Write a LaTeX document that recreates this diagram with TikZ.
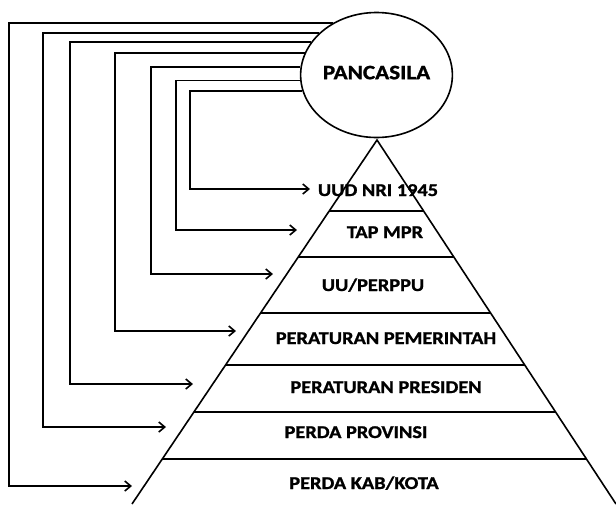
\documentclass[tikz,border=0pt]{standalone}
\usepackage{fontspec}
\setmainfont{Carlito}[FakeStretch=1.13, BoldFeatures={FakeBold=1.2}]
\usetikzlibrary{calc,shapes.geometric,arrows.meta}

\begin{document}
\begin{tikzpicture}[x=1pt, y=-1pt, line width=1.6pt,
    level/.style={font=\bfseries\fontsize{18}{18}\selectfont, inner sep=0pt,
      text height=12pt, text depth=0pt},
    link/.style={-{Straight Barb[length=6pt,width=10pt]}}]
    \clip (0,0) rectangle (616,504);
    \node[draw, ellipse, minimum width=147pt, minimum height=125pt, inner sep=0pt,
      font=\bfseries\fontsize{20.5}{20.5}\selectfont] (pancasila) at (376.5,75)
      {\raisebox{5pt}{PANCASILA}};
    \coordinate (apex) at (377,140);
    \coordinate (bl) at (132,504);
    \coordinate (br) at (616,504);
    \draw (bl) -- (apex) -- (br);
    \draw ($(apex)!0.195!(bl)$) -- ($(apex)!0.195!(br)$);
    \draw ($(apex)!0.321!(bl)$) -- ($(apex)!0.321!(br)$);
    \draw ($(apex)!0.475!(bl)$) -- ($(apex)!0.475!(br)$);
    \draw ($(apex)!0.618!(bl)$) -- ($(apex)!0.618!(br)$);
    \draw ($(apex)!0.747!(bl)$) -- ($(apex)!0.747!(br)$);
    \draw ($(apex)!0.876!(bl)$) -- ($(apex)!0.876!(br)$);
    \node[level] (uud) at (378,190) {UUD NRI 1945};
    \node[level] (tapmpr) at (385,232) {TAP MPR};
    \node[level] (uu) at (373,285) {UU/PERPPU};
    \node[level] (pp) at (386,338) {PERATURAN PEMERINTAH};
    \node[level] (perpres) at (386,387) {PERATURAN PRESIDEN};
    \node[level] (prov) at (356,432) {PERDA PROVINSI};
    \node[level] (kab) at (364,483) {PERDA KAB/KOTA};
    \coordinate (uud-in) at (310,189);
    \coordinate (tapmpr-in) at (297,230);
    \coordinate (uu-in) at (273,274);
    \coordinate (pp-in) at (236,331);
    \coordinate (perpres-in) at (193,384);
    \coordinate (prov-in) at (166,427);
    \coordinate (kab-in) at (132,486);
    \begin{scope}[link]
      \draw (pancasila.192) -| (190,0 |- uud-in) -- (uud-in);
      \draw (pancasila.184) -| (176,0 |- tapmpr-in) -- (tapmpr-in);
      \draw (pancasila.174) -| (151,0 |- uu-in) -- (uu-in);
      \draw (pancasila.163) -| (115,0 |- pp-in) -- (pp-in);
      \draw (pancasila.153) -| (70,0 |- perpres-in) -- (perpres-in);
      \draw (pancasila.144) -| (43,0 |- prov-in) -- (prov-in);
      \draw (pancasila.130) -| (9,0 |- kab-in) -- (kab-in);
    \end{scope}
  \end{tikzpicture}
\end{document}
